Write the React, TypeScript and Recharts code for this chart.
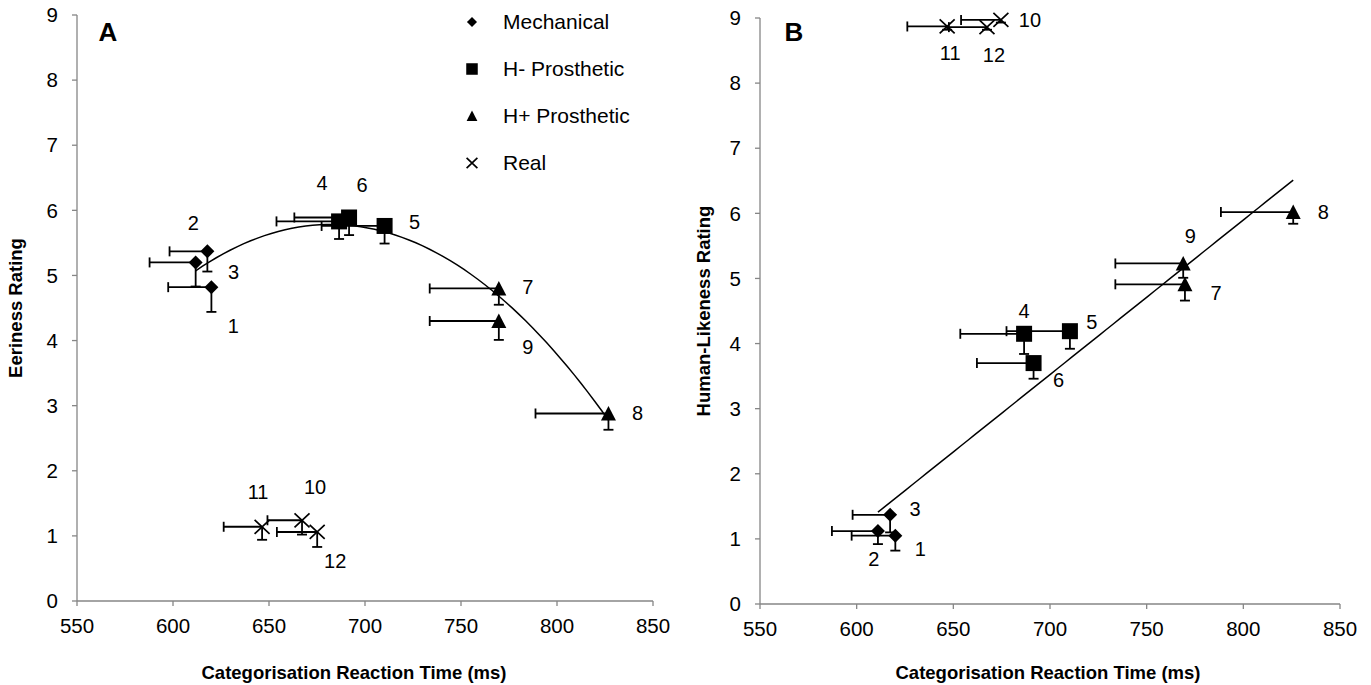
import React from "react";
import { ScatterChart, Scatter, XAxis, YAxis, ErrorBar, Legend } from "recharts";

const FONT = '"Liberation Sans", Arial, sans-serif';

// stimuli 1-12 and the group each belongs to
const stimulusIds = [1, 2, 3, 4, 5, 6, 7, 8, 9, 10, 11, 12];
const stimulusGroup = ["mech", "mech", "mech", "hminus", "hminus", "hminus", "hplus", "hplus", "hplus", "real", "real", "real"];
const groupKeys = ["mech", "hminus", "hplus", "real"];
const groupNames = ["Mechanical", "H- Prosthetic", "H+ Prosthetic", "Real"];

const xTicks = [550, 600, 650, 700, 750, 800, 850];
const yTicks = [0, 1, 2, 3, 4, 5, 6, 7, 8, 9];

// panel A: eeriness
const rtA = [620.0, 617.9, 611.8, 686.5, 710.2, 691.7, 769.7, 826.8, 769.7, 667.2, 646.4, 675.1];
const rtErrA = [22.5, 19.7, 24.0, 32.6, 32.8, 28.5, 36.0, 38.0, 36.0, 18.0, 20.0, 21.0];
const eeriness = [4.82, 5.37, 5.2, 5.83, 5.76, 5.89, 4.8, 2.88, 4.3, 1.24, 1.14, 1.06];
const eerinessErr = [0.38, 0.31, 0.37, 0.27, 0.27, 0.27, 0.25, 0.25, 0.29, 0.22, 0.2, 0.23];

// panel B: human-likeness
const rtB = [620.0, 611.0, 617.3, 686.6, 710.3, 691.5, 769.8, 825.8, 768.9, 674.6, 646.8, 667.4];
const rtErrB = [22.6, 23.8, 19.4, 33.0, 32.8, 29.3, 36.0, 37.4, 35.1, 20.6, 20.6, 19.7];
const humanLikeness = [1.05, 1.12, 1.37, 4.15, 4.19, 3.7, 4.91, 6.02, 5.23, 8.97, 8.87, 8.86];
const humanLikenessErr = [0.23, 0.2, 0.27, 0.31, 0.27, 0.24, 0.25, 0.18, 0.22, 0.04, 0.05, 0.04];

// where each number label sits relative to its marker (px)
const labelOffsetA: Record<number, [number, number]> = {
  1: [22, 39], 2: [-14, -28], 3: [38, 10], 4: [-17, -38], 5: [30, -4], 6: [13, -32],
  7: [29, -1], 8: [29, 0], 9: [29, 26], 10: [13, -33], 11: [-4, -35], 12: [18, 29],
};
const labelOffsetB: Record<number, [number, number]> = {
  1: [25, 13], 2: [-4, 28], 3: [25, -6], 4: [0, -23], 5: [22, -9], 6: [25, 17],
  7: [31, 9], 8: [30, 0], 9: [7, -27], 10: [29, 0], 11: [3, 27], 12: [7, 28],
};

const buildRows = (xs: number[], xErr: number[], ys: number[], yErr: number[]) =>
  stimulusIds.map((id, i) => ({
    id,
    group: stimulusGroup[i],
    x: xs[i],
    y: ys[i],
    xErrBar: [xErr[i], 0], // bars only go left
    yErrBar: [yErr[i], 0], // and only down
  }));

// least-squares polynomial (trendline over the non-real stimuli, as in the original)
function polyFit(xs: number[], ys: number[], degree: number) {
  const n = degree + 1;
  const m: number[][] = [];
  for (let r = 0; r < n; r++) {
    const row: number[] = [];
    for (let c = 0; c < n; c++) row.push(xs.reduce((s, x) => s + Math.pow(x, r + c), 0));
    row.push(xs.reduce((s, x, i) => s + Math.pow(x, r) * ys[i], 0));
    m.push(row);
  }
  for (let c = 0; c < n; c++) {
    let p = c;
    for (let r = c + 1; r < n; r++) if (Math.abs(m[r][c]) > Math.abs(m[p][c])) p = r;
    [m[c], m[p]] = [m[p], m[c]];
    for (let r = 0; r < n; r++) {
      if (r === c) continue;
      const f = m[r][c] / m[c][c];
      for (let k = c; k <= n; k++) m[r][k] -= f * m[c][k];
    }
  }
  return m.map((row, i) => row[n] / row[i]);
}

function trendline(rows: any[], degree: number) {
  const pts = rows.filter((r) => r.group !== "real");
  const xs = pts.map((p) => p.x);
  const coef = polyFit(xs, pts.map((p) => p.y), degree);
  const lo = Math.min(...xs);
  const hi = Math.max(...xs);
  const out = [];
  for (let k = 0; k <= 60; k++) {
    const x = lo + ((hi - lo) * k) / 60;
    out.push({ x, y: coef.reduce((s, c, i) => s + c * Math.pow(x, i), 0) });
  }
  return out;
}

const rowsA = buildRows(rtA, rtErrA, eeriness, eerinessErr);
const rowsB = buildRows(rtB, rtErrB, humanLikeness, humanLikenessErr);
const fitA = trendline(rowsA, 2);
const fitB = trendline(rowsB, 1);

function Marker({ kind, cx, cy, s = 1 }: { kind: string; cx: number; cy: number; s?: number }) {
  if (kind === "mech")
    return <polygon points={`${cx},${cy - 7 * s} ${cx + 7 * s},${cy} ${cx},${cy + 7 * s} ${cx - 7 * s},${cy}`} fill="#000" />;
  if (kind === "hminus") return <rect x={cx - 8 * s} y={cy - 8 * s} width={16 * s} height={16 * s} fill="#000" />;
  if (kind === "hplus")
    return <polygon points={`${cx},${cy - 7.5 * s} ${cx + 7.5 * s},${cy + 7 * s} ${cx - 7.5 * s},${cy + 7 * s}`} fill="#000" />;
  return (
    <path
      d={`M${cx - 7.5 * s},${cy - 7 * s}L${cx + 7.5 * s},${cy + 7 * s}M${cx + 7.5 * s},${cy - 7 * s}L${cx - 7.5 * s},${cy + 7 * s}`}
      stroke="#000"
      strokeWidth={1.7}
      fill="none"
    />
  );
}

const makeShape = (kind: string, offsets: Record<number, [number, number]>) => (props: any) => {
  const { cx, cy, payload } = props;
  const [dx, dy] = offsets[payload.id];
  return (
    <g>
      <Marker kind={kind} cx={cx} cy={cy} />
      <text x={cx + dx} y={cy + dy} textAnchor="middle" dominantBaseline="central" fontSize={20} fontFamily={FONT} fill="#000">
        {payload.id}
      </text>
    </g>
  );
};

function LegendBox() {
  return (
    <div style={{ fontFamily: FONT, fontSize: 21, color: "#000" }}>
      {groupKeys.map((k, i) => (
        <div key={k} style={{ height: 47, display: "flex", alignItems: "center" }}>
          <svg width={16} height={16} style={{ marginRight: 23 }}>
            <Marker kind={k} cx={8} cy={8} s={0.72} />
          </svg>
          <span>{groupNames[i]}</span>
        </div>
      ))}
    </div>
  );
}

const axisColor = "#868686";
const tickStyle = { fontSize: 20.5, fill: "#000", fontFamily: FONT };

function Panel(props: {
  rows: any[];
  fit: any[];
  offsets: Record<number, [number, number]>;
  width: number;
  top: number;
  yAxisWidth: number;
  right: number;
  yLabel: string;
  yLabelOffset: number;
  xLabelShift: number;
  legend?: boolean;
}) {
  const { rows, fit, offsets, width, top, yAxisWidth, right, yLabel, yLabelOffset, xLabelShift, legend } = props;
  return (
    <ScatterChart width={width} height={685} margin={{ top, right, left: 0, bottom: 0 }}>
      <XAxis
        type="number"
        dataKey="x"
        domain={[550, 850]}
        ticks={xTicks}
        height={685 - 601 - (top - 15)}
        stroke={axisColor}
        strokeWidth={1.3}
        tickSize={5}
        tickMargin={12}
        tick={tickStyle}
        label={{
          value: "Categorisation Reaction Time (ms)",
          position: "insideBottom",
          offset: 6,
          fontSize: 18.5,
          fontWeight: "bold",
          fill: "#000",
          fontFamily: FONT,
          style: { transform: `translateX(${xLabelShift}px)` },
        }}
      />
      <YAxis
        type="number"
        dataKey="y"
        domain={[0, 9]}
        ticks={yTicks}
        width={yAxisWidth}
        stroke={axisColor}
        strokeWidth={1.3}
        tickSize={5}
        tickMargin={14}
        tick={tickStyle}
        label={{
          value: yLabel,
          angle: -90,
          position: "insideLeft",
          offset: yLabelOffset,
          fontSize: 18.5,
          fontWeight: "bold",
          fill: "#000",
          fontFamily: FONT,
          style: { textAnchor: "middle" },
        }}
      />
      {legend && (
        <Legend
          layout="vertical"
          align="center"
          verticalAlign="middle"
          wrapperStyle={{ left: 464, top: -2, width: 220 }}
          content={() => <LegendBox />}
        />
      )}
      <Scatter
        data={fit}
        line={{ stroke: "#000", strokeWidth: 1.5 }}
        lineType="joint"
        shape={() => <g />}
        legendType="none"
        isAnimationActive={false}
      />
      {groupKeys.map((k) => (
        <Scatter
          key={k}
          data={rows.filter((r) => r.group === k)}
          shape={makeShape(k, offsets)}
          isAnimationActive={false}
        >
          <ErrorBar dataKey="xErrBar" direction="x" width={5} stroke="#000" strokeWidth={1.8} />
          <ErrorBar dataKey="yErrBar" direction="y" width={5} stroke="#000" strokeWidth={1.8} />
        </Scatter>
      ))}
    </ScatterChart>
  );
}

const letterStyle: React.CSSProperties = {
  position: "absolute",
  top: 19,
  width: 40,
  textAlign: "center",
  fontFamily: FONT,
  fontWeight: "bold",
  fontSize: 26,
  lineHeight: 1,
};

export default function App() {
  return (
    <div style={{ position: "relative", width: 1371, height: 685, background: "#fff" }}>
      {/* one-sided error bars: hide the cap drawn at the zero-length end */}
      <style>{"body{margin:0} .recharts-errorBar > line:first-child{display:none}"}</style>
      <div style={{ position: "absolute", left: 0, top: 0 }}>
        <Panel
          rows={rowsA}
          fit={fitA}
          offsets={labelOffsetA}
          width={690}
          top={15}
          yAxisWidth={77}
          right={37}
          yLabel="Eeriness Rating"
          yLabelOffset={15}
          xLabelShift={-11}
          legend
        />
      </div>
      <div style={{ position: "absolute", left: 690, top: 0 }}>
        <Panel
          rows={rowsB}
          fit={fitB}
          offsets={labelOffsetB}
          width={681}
          top={18}
          yAxisWidth={70}
          right={31}
          yLabel="Human-Likeness Rating"
          yLabelOffset={13}
          xLabelShift={-2}
        />
      </div>
      <div style={{ ...letterStyle, left: 88 }}>A</div>
      <div style={{ ...letterStyle, left: 774 }}>B</div>
    </div>
  );
}
